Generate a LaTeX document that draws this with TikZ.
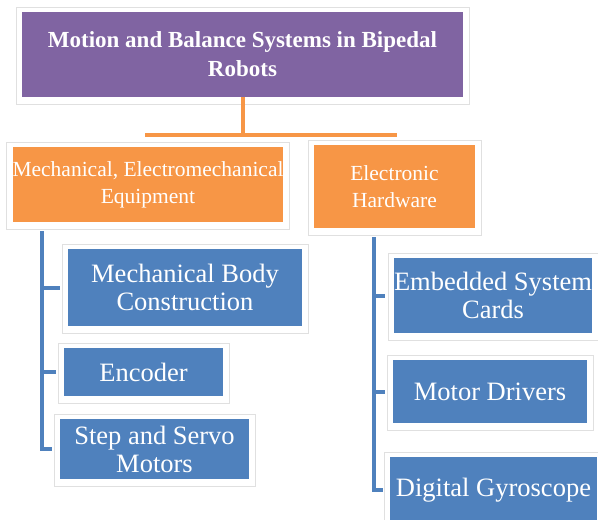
\documentclass[tikz,border=0pt]{standalone}
\usepackage{fontspec}
\setmainfont{Liberation Serif}
\usetikzlibrary{calc}

\definecolor{headpurple}{HTML}{8064A2}
\definecolor{grouporange}{HTML}{F79646}
\definecolor{itemblue}{HTML}{4F81BD}

\tikzset{
  box/.style={rectangle, text=white, align=center, inner sep=0pt},
  headbox/.style={box, fill=headpurple, font=\fontsize{23}{29}\selectfont\bfseries},
  groupbox/.style={box, fill=grouporange, font=\fontsize{21.5}{27}\selectfont},
  itembox/.style={box, fill=itemblue, font=\fontsize{26.5}{28}\selectfont},
  rim/.style={draw=black!12, line width=0.6pt},
  bar/.style={draw=grouporange, line width=4pt},
  stem/.style={draw=itemblue, line width=4pt},
}

\begin{document}
\begin{tikzpicture}[x=1pt,y=1pt]
\useasboundingbox (0,0) rectangle (598,-520);

% title and the two groups
\node[headbox, minimum width=441pt, minimum height=85pt] (title) at (242.5,-54.5)
  {Motion and Balance Systems in Bipedal\\Robots};
\node[groupbox, minimum width=266pt, minimum height=75pt] (mech) at (148,-184.5)
  {Mechanical, Electromechanical\\Equipment};
\node[groupbox, minimum width=161pt, minimum height=83pt] (elec) at (394.5,-186.5)
  {Electronic\\Hardware};

% items of the left group
\node[itembox, minimum width=234pt, minimum height=77pt] (body) at (185,-287.5)
  {Mechanical Body\\Construction};
\node[itembox, minimum width=159pt, minimum height=48pt] (enc) at (143.5,-372) {Encoder};
\node[itembox, minimum width=189pt, minimum height=60pt] (motors) at (154.5,-449)
  {Step and Servo\\Motors};

% items of the right group
\node[itembox, minimum width=198pt, minimum height=75pt] (cards) at (493,-295.5)
  {Embedded System\\Cards};
\node[itembox, minimum width=194pt, minimum height=63pt] (drivers) at (490,-391.5) {Motor Drivers};
\node[itembox, minimum width=207pt, minimum height=66pt] (gyro) at (493.5,-490) {Digital Gyroscope};

% white frames round the boxes
\foreach \n in {title,mech,elec,body,enc,motors,cards,drivers,gyro}
  \draw[rim] ($(\n.south west)+(-6,-7)$) rectangle ($(\n.north east)+(6,5)$);

% orange connector
\coordinate (barL) at (145,-135);
\coordinate (barR) at (397,-135);
\draw[bar] (title.south) -- (title.south |- barL);
\draw[bar] (barL) -- (barR);

% left stem
\coordinate (lstem) at (42,-231);
\draw[stem] (lstem) |- ($(motors.west)+(-8,0)$);
\draw[stem] (lstem |- body.west) -- ($(body.west)+(-8,0)$);
\draw[stem] (lstem |- enc.west) -- ($(enc.west)+(-8,0)$);

% right stem
\coordinate (rstem) at (374,-237);
\draw[stem] (rstem) |- ($(gyro.west)+(-7,0)$);
\draw[stem] (rstem |- cards.west) -- ($(cards.west)+(-9,0)$);
\draw[stem] (rstem |- drivers.west) -- ($(drivers.west)+(-8,0)$);
\end{tikzpicture}
\end{document}
